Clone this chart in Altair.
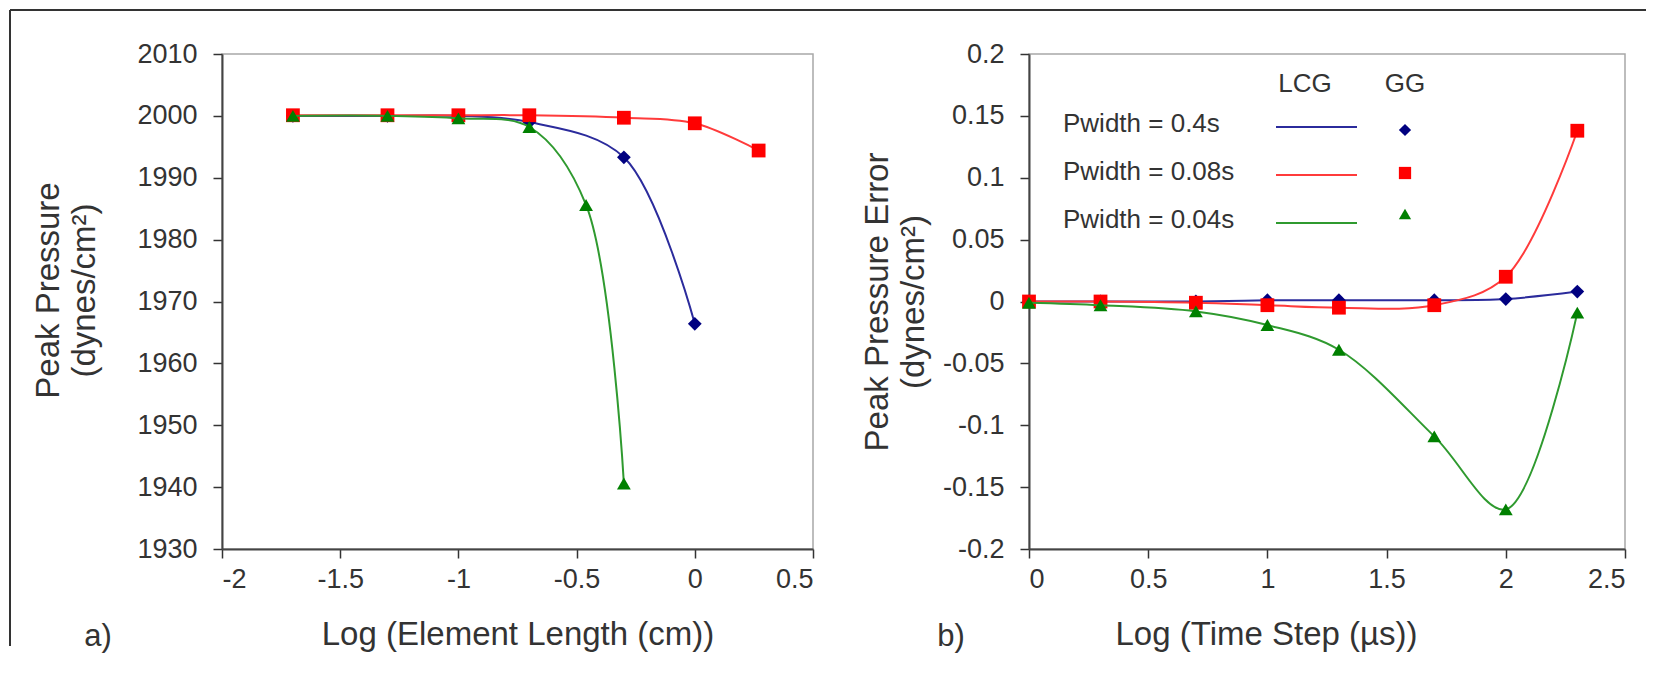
import altair as alt
import pandas as pd

# ---------------- data ----------------
# Panel a) : Peak pressure vs log element length
a_x_blue = [-1.7, -1.3, -1.0, -0.7, -0.3, 0.0]
a_y_blue = [2000.0, 2000.0, 2000.0, 1999.0, 1993.3, 1966.4]
a_x_red = [-1.7, -1.3, -1.0, -0.7, -0.3, 0.0, 0.27]
a_y_red = [2000.1, 2000.1, 2000.1, 2000.1, 1999.7, 1998.8, 1994.4]
a_x_green = [-1.7, -1.3, -1.0, -0.7, -0.46, -0.3]
a_y_green = [2000.0, 2000.0, 1999.6, 1998.2, 1985.6, 1940.6]

# Panel b) : Peak pressure error vs log time step
b_x = [0.0, 0.3, 0.7, 1.0, 1.3, 1.7, 2.0, 2.3]
b_y_blue = [0.0, 0.0, 0.0, 0.001, 0.001, 0.001, 0.002, 0.008]
b_y_red = [0.0, 0.0, -0.001, -0.003, -0.005, -0.003, 0.020, 0.138]
b_y_green = [-0.001, -0.003, -0.008, -0.019, -0.039, -0.109, -0.168, -0.009]

series_names = ["Pwidth = 0.4s", "Pwidth = 0.08s", "Pwidth = 0.04s"]
line_colors = ["#2b2b9c", "#ff3b3b", "#2f9a2f"]
marker_colors = ["#000080", "#ff0000", "#008000"]
marker_shapes = ["diamond", "square", "triangle-up"]

a_ticks_x = [-2, -1.5, -1, -0.5, 0, 0.5]
a_ticks_y = [1930, 1940, 1950, 1960, 1970, 1980, 1990, 2000, 2010]
b_ticks_x = [0, 0.5, 1, 1.5, 2, 2.5]
b_ticks_y = [-0.2, -0.15, -0.1, -0.05, 0, 0.05, 0.1, 0.15, 0.2]

FONT = "Liberation Sans"
TXT = "#333333"

W_A, W_B, H = 591, 596, 495


def series_layers(xs, ys, xscale, yscale, xaxis, yaxis, idx):
    df = pd.DataFrame({"x": xs, "y": ys})
    base = alt.Chart(df).encode(
        x=alt.X("x:Q", scale=xscale, axis=xaxis),
        y=alt.Y("y:Q", scale=yscale, axis=yaxis),
    )
    line = base.mark_line(interpolate="catmull-rom", strokeWidth=2,
                          color=line_colors[idx])
    pts = base.mark_point(shape=marker_shapes[idx], filled=True, opacity=1,
                          size=190, color=marker_colors[idx])
    return [line, pts]


def one(val):
    return alt.Data(values=[{"v": val}])


# ---------------- panel a ----------------
xs_a = alt.Scale(domain=[-2, 0.5], nice=False, zero=False)
ys_a = alt.Scale(domain=[1930, 2010], nice=False, zero=False)
xax_a = alt.Axis(values=a_ticks_x, title="Log (Element Length (cm))",
                 labelExpr="toString(datum.value)")
yax_a = alt.Axis(values=a_ticks_y, title=["Peak Pressure", "(dynes/cm²)"],
                 labelExpr="toString(datum.value)", titlePadding=35, titleY=236)

layers_a = []
for i, (xx, yy) in enumerate([(a_x_blue, a_y_blue), (a_x_red, a_y_red),
                              (a_x_green, a_y_green)]):
    layers_a += series_layers(xx, yy, xs_a, ys_a, xax_a, yax_a, i)

# outer frame of the whole figure (top and left edges)
frame_left = alt.Chart(one(0)).mark_rule(color="#333333", strokeWidth=2).encode(
    x=alt.value(-212), y=alt.value(-44), y2=alt.value(592))
frame_top = alt.Chart(one(0)).mark_rule(color="#333333", strokeWidth=2).encode(
    x=alt.value(-212), x2=alt.value(1424), y=alt.value(-44))
label_a = alt.Chart(one(0)).mark_text(font=FONT, fontSize=31, color=TXT,
                                      align="center", baseline="middle").encode(
    x=alt.value(-124), y=alt.value(583), text=alt.value("a)"))

panel_a = alt.layer(*layers_a, frame_left, frame_top, label_a).properties(
    width=W_A, height=H)

# ---------------- panel b ----------------
xs_b = alt.Scale(domain=[0, 2.5], nice=False, zero=False)
ys_b = alt.Scale(domain=[-0.2, 0.2], nice=False, zero=False)
xax_b = alt.Axis(values=b_ticks_x, title="Log (Time Step (µs))",
                 labelExpr="toString(datum.value)", titleX=237)
yax_b = alt.Axis(values=b_ticks_y, title=["Peak Pressure  Error", "(dynes/cm²)"],
                 labelExpr="toString(datum.value)", titlePadding=12)

layers_b = []
for i, yy in enumerate([b_y_blue, b_y_red, b_y_green]):
    layers_b += series_layers(b_x, yy, xs_b, ys_b, xax_b, yax_b, i)

# in-plot legend
leg = []
hdr_style = dict(font=FONT, fontSize=26, color=TXT, baseline="middle")
leg.append(alt.Chart(one(0)).mark_text(align="center", **hdr_style).encode(
    x=alt.value(276), y=alt.value(30), text=alt.value("LCG")))
leg.append(alt.Chart(one(0)).mark_text(align="center", **hdr_style).encode(
    x=alt.value(376), y=alt.value(30), text=alt.value("GG")))
row_y = [70, 118, 166]
for i, name in enumerate(series_names):
    leg.append(alt.Chart(one(i)).mark_text(align="left", **hdr_style).encode(
        x=alt.value(34), y=alt.value(row_y[i]), text=alt.value(name)))
    leg.append(alt.Chart(one(i)).mark_rule(strokeWidth=2, color=line_colors[i]).encode(
        x=alt.value(247), x2=alt.value(328), y=alt.value(row_y[i] + 3)))
    leg.append(alt.Chart(one(i)).mark_point(shape=marker_shapes[i], filled=True,
                                            opacity=1, size=150,
                                            color=marker_colors[i]).encode(
        x=alt.value(376), y=alt.value(row_y[i] + [6, 1, -6][i])))

label_b = alt.Chart(one(0)).mark_text(font=FONT, fontSize=31, color=TXT,
                                      align="center", baseline="middle").encode(
    x=alt.value(-78), y=alt.value(583), text=alt.value("b)"))

panel_b = alt.layer(*layers_b, *leg, label_b).properties(width=W_B, height=H)

chart = alt.hconcat(panel_a, panel_b, spacing=216, bounds="flush").properties(
    padding=0, background="white"
).configure_view(
    stroke="#a8a8a8", strokeWidth=1.5
).configure_axis(
    grid=False,
    domainColor="#444444", domainWidth=2,
    tickColor="#333333", tickWidth=1.5, tickSize=9,
    labelFont=FONT, labelFontSize=27, labelColor=TXT,
    titleFont=FONT, titleFontSize=33, titleFontWeight="normal", titleColor=TXT,
    titleLineHeight=36,
).configure_axisLeft(
    labelPadding=16,
).configure_axisBottom(
    labelPadding=8, titlePadding=26,
)

chart.save("out.html", embed_options={"renderer": "svg", "actions": False})
